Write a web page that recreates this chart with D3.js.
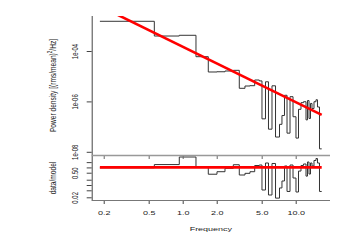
<!DOCTYPE html>
<html>
<head>
<meta charset="utf-8">
<script src="https://cdn.jsdelivr.net/npm/d3@7"></script>
<style>
  body { margin: 0; background: #fff; }
  text { font-family: "Liberation Sans", Arial, sans-serif; fill: #222; }
</style>
</head>
<body>
<div id="chart"></div>
<script>
// bin edges (Hz)
const binEdges = [0.185, 0.561, 0.933, 1.311, 1.685, 2.012, 2.368, 2.804, 3.169, 3.558,
  3.940, 4.338, 4.763, 5.031, 5.404, 5.744, 6.17, 6.63, 7.19, 7.56,
  7.96, 8.38, 8.91, 9.47, 10.06, 10.59, 11.14, 11.72, 12.34, 12.72,
  13.12, 13.52, 13.94, 14.52, 15.12, 15.59, 16.24, 16.99];

// power density per bin
const powerValues = [1.51e-3, 3.93e-4, 4.20e-4, 5.94e-5, 1.47e-5, 1.50e-5, 1.61e-5, 1.71e-5, 3.31e-6, 4.08e-6,
  4.20e-6, 7.06e-6, 6.5e-6, 2.03e-7, 6.0e-6, 7.9e-8, 4.16e-6, 3.85e-8, 1.23e-7, 2.75e-7,
  1.75e-6, 5.5e-8, 1.54e-6, 2.46e-7, 3.5e-8, 4.85e-7, 8.9e-7, 9.7e-7, 1.85e-7, 1.08e-6,
  2.1e-7, 8.3e-7, 5.2e-7, 9.7e-7, 1.16e-6, 6.0e-7, 1.31e-8];

// data/model per bin
const ratioValues = [0.95, 1.45, 3.9, 1.02, 0.41, 0.57, 0.89, 1.42, 0.37, 0.46,
  0.57, 1.28, 1.37, 0.052, 1.78, 0.027, 1.67, 0.018, 0.068, 0.169,
  1.20, 0.043, 1.37, 0.25, 0.040, 0.62, 1.28, 1.56, 0.32, 2.03,
  0.42, 1.78, 1.20, 2.47, 3.2, 1.78, 0.043];

// power-law model (ends of the red line)
const modelFreq = [0.185, 16.99];
const modelPower = [6.03e-3, 2.91e-7];
const modelRatio = [1, 1];

// ticks
const freqTicks = [0.2, 0.5, 1, 2, 5, 10];
const freqTickLabels = ['0.2', '0.5', '1.0', '2.0', '5.0', '10.0'];
const powerTicks = [1e-4, 1e-6, 1e-8];
const powerTickLabels = ['1e-04', '1e-06', '1e-08'];
const ratioTicks = [0.02, 0.05, 0.1, 0.2, 0.5, 1, 2];
const ratioTickLabels = ['0.02', '', '', '', '0.50', '', ''];

//Lienzo
const W = 353, H = 249;
const left = 91.7, right = 330, topY = 16, midY = 155, bottomY = 200;
const SX = 1.5; // texto ensanchado como en la imagen original

let svg = d3.select('#chart').append('svg')
    .attr('width', W)
    .attr('height', H)
    .style('background', '#fff');

let x = d3.scaleLog().domain([0.1566, 20.12]).range([left, right]);
let yP = d3.scaleLog().domain([Math.pow(10, -8.127), Math.pow(10, -2.611)]).range([midY, topY]);
let yR = d3.scaleLog().domain([Math.pow(10, -1.852), 5.07]).range([bottomY, midY]);

let defs = svg.append('defs');
defs.append('clipPath').attr('id', 'clipTop')
    .append('rect').attr('x', left).attr('y', topY).attr('width', right - left).attr('height', midY - topY);
defs.append('clipPath').attr('id', 'clipBot')
    .append('rect').attr('x', left).attr('y', midY).attr('width', right - left).attr('height', bottomY - midY);

function stepPoints(values, y) {
    let pts = [];
    values.forEach(function(v, i) {
        pts.push([x(binEdges[i]), y(v)]);
        pts.push([x(binEdges[i + 1]), y(v)]);
    });
    return pts;
}

let line = d3.line();

//Panel superior
svg.append('path')
    .attr('clip-path', 'url(#clipTop)')
    .attr('d', line(stepPoints(powerValues, yP)))
    .attr('fill', 'none')
    .attr('stroke', '#333')
    .attr('stroke-width', 1);

svg.append('path')
    .attr('clip-path', 'url(#clipTop)')
    .attr('d', line(modelFreq.map(function(f, i) { return [x(f), yP(modelPower[i])]; })))
    .attr('fill', 'none')
    .attr('stroke', '#ff0000')
    .attr('stroke-width', 2.6);

//Panel inferior
svg.append('path')
    .attr('clip-path', 'url(#clipBot)')
    .attr('d', line(stepPoints(ratioValues, yR)))
    .attr('fill', 'none')
    .attr('stroke', '#333')
    .attr('stroke-width', 1);

svg.append('path')
    .attr('clip-path', 'url(#clipBot)')
    .attr('d', line(modelFreq.map(function(f, i) { return [x(f), yR(modelRatio[i])]; })))
    .attr('fill', 'none')
    .attr('stroke', '#ff0000')
    .attr('stroke-width', 2.6);

//Ejes
function styleAxis(g, color) {
    g.select('.domain').remove();
    g.selectAll('.tick line').attr('stroke', color);
}

// eje x del panel superior, sin etiquetas
svg.append('g')
    .attr('transform', 'translate(0,' + midY + ')')
    .call(d3.axisBottom(x).tickValues(freqTicks).tickSize(4).tickFormat(''))
    .call(function(g) { styleAxis(g, '#666'); });

// eje x inferior
svg.append('g')
    .attr('transform', 'translate(0,' + bottomY + ')')
    .call(d3.axisBottom(x).tickValues(freqTicks).tickSize(4)
        .tickFormat(function(d, i) { return freqTickLabels[i]; }))
    .call(function(g) {
        styleAxis(g, '#444');
        g.selectAll('.tick text')
            .attr('y', null).attr('dy', null)
            .attr('font-size', 6)
            .attr('text-anchor', 'middle')
            .attr('transform', 'translate(0,14.5) scale(' + SX + ',1)');
    });

function yAxis(scale, ticks, labels) {
    return function(g) {
        g.call(d3.axisLeft(scale).tickValues(ticks).tickSize(5)
            .tickFormat(function(d, i) { return labels[i]; }));
        styleAxis(g, '#444');
        g.selectAll('.tick text')
            .attr('x', null).attr('dy', '0.36em')
            .attr('font-size', 6)
            .attr('text-anchor', 'middle')
            .attr('transform', 'translate(-16.7,0) scale(' + SX + ',1) rotate(-90)');
    };
}

svg.append('g')
    .attr('transform', 'translate(' + left + ',0)')
    .call(yAxis(yP, powerTicks, powerTickLabels));

svg.append('g')
    .attr('transform', 'translate(' + left + ',0)')
    .call(yAxis(yR, ratioTicks, ratioTickLabels));

// marco en L
svg.append('line')
    .attr('x1', left + 0.5).attr('x2', left + 0.5).attr('y1', topY).attr('y2', bottomY + 0.5)
    .attr('stroke', '#444');
svg.append('line')
    .attr('x1', left).attr('x2', right).attr('y1', midY + 0.5).attr('y2', midY + 0.5)
    .attr('stroke', '#999').attr('stroke-width', 1.4);
svg.append('line')
    .attr('x1', left).attr('x2', right).attr('y1', bottomY + 0.5).attr('y2', bottomY + 0.5)
    .attr('stroke', '#777');

//Títulos
svg.append('text')
    .attr('font-size', 6)
    .attr('text-anchor', 'middle')
    .attr('transform', 'translate(' + ((left + right) / 2) + ',230.5) scale(' + SX + ',1)')
    .text('Frequency');

let yTitle = svg.append('text')
    .attr('font-size', 6.6)
    .attr('text-anchor', 'middle')
    .attr('dy', '0.36em')
    .attr('transform', 'translate(52,' + ((topY + midY) / 2) + ') scale(' + SX + ',1) rotate(-90)');
yTitle.append('tspan').text('Power density [(rms/mean)');
yTitle.append('tspan').attr('font-size', 4.6).attr('dy', '-0.5em').text('2');
yTitle.append('tspan').attr('dy', '0.35em').text('/Hz]');

svg.append('text')
    .attr('font-size', 6.6)
    .attr('text-anchor', 'middle')
    .attr('dy', '0.36em')
    .attr('transform', 'translate(52,' + ((midY + bottomY) / 2 + 0.5) + ') scale(' + SX + ',1) rotate(-90)')
    .text('data/model');
</script>
</body>
</html>
